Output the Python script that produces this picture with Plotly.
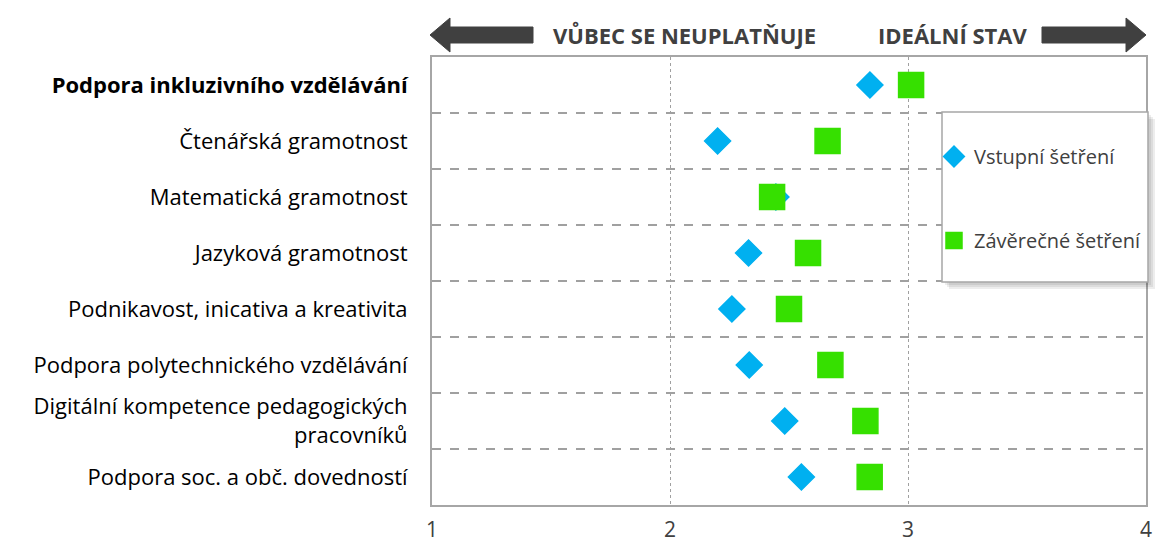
import plotly.graph_objects as go

categories = [
    "<b>Podpora inkluzivního vzdělávání</b>",
    "Čtenářská gramotnost",
    "Matematická gramotnost",
    "Jazyková gramotnost",
    "Podnikavost, inicativa a kreativita",
    "Podpora polytechnického vzdělávání",
    "Digitální kompetence pedagogických<br>pracovníků",
    "Podpora soc. a obč. dovedností",
]
vstupni = [2.84, 2.20, 2.445, 2.33, 2.26, 2.333, 2.482, 2.552]
zaverecne = [3.013, 2.662, 2.429, 2.58, 2.50, 2.674, 2.821, 2.839]
x_ticks = [1, 2, 3, 4]

W, H = 1158, 549
L, R, T, B = 432, 1146, 57, 505
rows = list(range(len(categories)))
FONT = "Open Sans"
GRAY = "#404040"


def px(X):
    return (X - L) / (R - L)


def py(Y):
    return (B - Y) / (B - T)


fig = go.Figure()
fig.add_trace(go.Scatter(
    x=vstupni, y=rows, mode="markers", name="Vstupní šetření",
    marker=dict(symbol="diamond", size=20, color="#00B0F0",
                line=dict(color="#00B0F0", width=1.5)),
    legendgroup="a",
))
fig.add_trace(go.Scatter(
    x=zaverecne, y=rows, mode="markers", name="Závěrečné šetření",
    marker=dict(symbol="square", size=25, color="#36E000",
                line=dict(color="#36E000", width=1.5)),
    legendgroup="b",
))

shapes = []
# legend box shadow
for d in [7, 5, 3]:
    shapes.append(dict(type="rect", xref="paper", yref="paper",
                       x0=px(942 + d), x1=px(1148 + d), y0=py(282 + d), y1=py(112 + d),
                       fillcolor="rgba(0,0,0,0.07)", line=dict(width=0), layer="above"))
# legend box
shapes.append(dict(type="rect", xref="paper", yref="paper",
                   x0=px(942), x1=px(1148), y0=py(282), y1=py(112),
                   fillcolor="white", line=dict(color="#A6A6A6", width=1.5), layer="above"))


def poly(points):
    p = "M " + " L ".join(f"{px(a):.5f},{py(b):.5f}" for a, b in points) + " Z"
    return dict(type="path", xref="paper", yref="paper", path=p,
                fillcolor=GRAY, line=dict(color=GRAY, width=1))


shapes.append(poly([(430, 35), (450, 18), (450, 27), (533, 27), (533, 43), (450, 43), (450, 52)]))
shapes.append(poly([(1146, 35), (1126, 18), (1126, 27), (1042, 27), (1042, 43), (1126, 43), (1126, 52)]))

annotations = [
    dict(text="<b>VŮBEC SE NEUPLATŇUJE</b>", x=px(684), y=py(35), xref="paper", yref="paper",
         showarrow=False, font=dict(family=FONT, size=22, color=GRAY), xanchor="center", yanchor="middle"),
    dict(text="<b>IDEÁLNÍ STAV</b>", x=px(952), y=py(35), xref="paper", yref="paper",
         showarrow=False, font=dict(family=FONT, size=22, color=GRAY), xanchor="center", yanchor="middle"),
]

fig.update_layout(
    width=W, height=H,
    margin=dict(l=L, r=W - R, t=T, b=H - B, autoexpand=False),
    plot_bgcolor="white", paper_bgcolor="white",
    font=dict(family=FONT, color="#000000"),
    shapes=shapes, annotations=annotations,
    legend=dict(
        x=px(934), y=py(137), xanchor="left", yanchor="top",
        bgcolor="rgba(0,0,0,0)", borderwidth=0,
        font=dict(family=FONT, size=20, color=GRAY),
        traceorder="grouped", tracegroupgap=55,
        itemwidth=30,
    ),
    showlegend=True,
)
fig.update_xaxes(
    range=[1, 4], tickvals=x_ticks, ticktext=[str(v) for v in x_ticks],
    showgrid=True, gridcolor="#A0A0A0", griddash="dot", gridwidth=1,
    showline=True, linecolor="#A6A6A6", linewidth=2, mirror=True,
    tickfont=dict(family=FONT, size=21, color=GRAY), ticks="", ticklabelstandoff=5,
    zeroline=False, fixedrange=True, automargin=False,
)
fig.update_yaxes(
    range=[len(categories) - 0.5, -0.5], tickvals=rows, ticktext=categories,
    showgrid=False,
    minor=dict(tickvals=[r + 0.5 for r in rows[:-1]], showgrid=True,
               gridcolor="#A0A0A0", griddash="dash", gridwidth=1.5, ticks=""),
    showline=True, linecolor="#A6A6A6", linewidth=2, mirror=True,
    tickfont=dict(family=FONT, size=22, color="#000000"), ticks="", ticklabelstandoff=18,
    zeroline=False, fixedrange=True, automargin=False,
)

fig.write_html("out.html", config={"displayModeBar": False},
               post_script="document.body.style.margin='0';document.body.style.padding='0';")
